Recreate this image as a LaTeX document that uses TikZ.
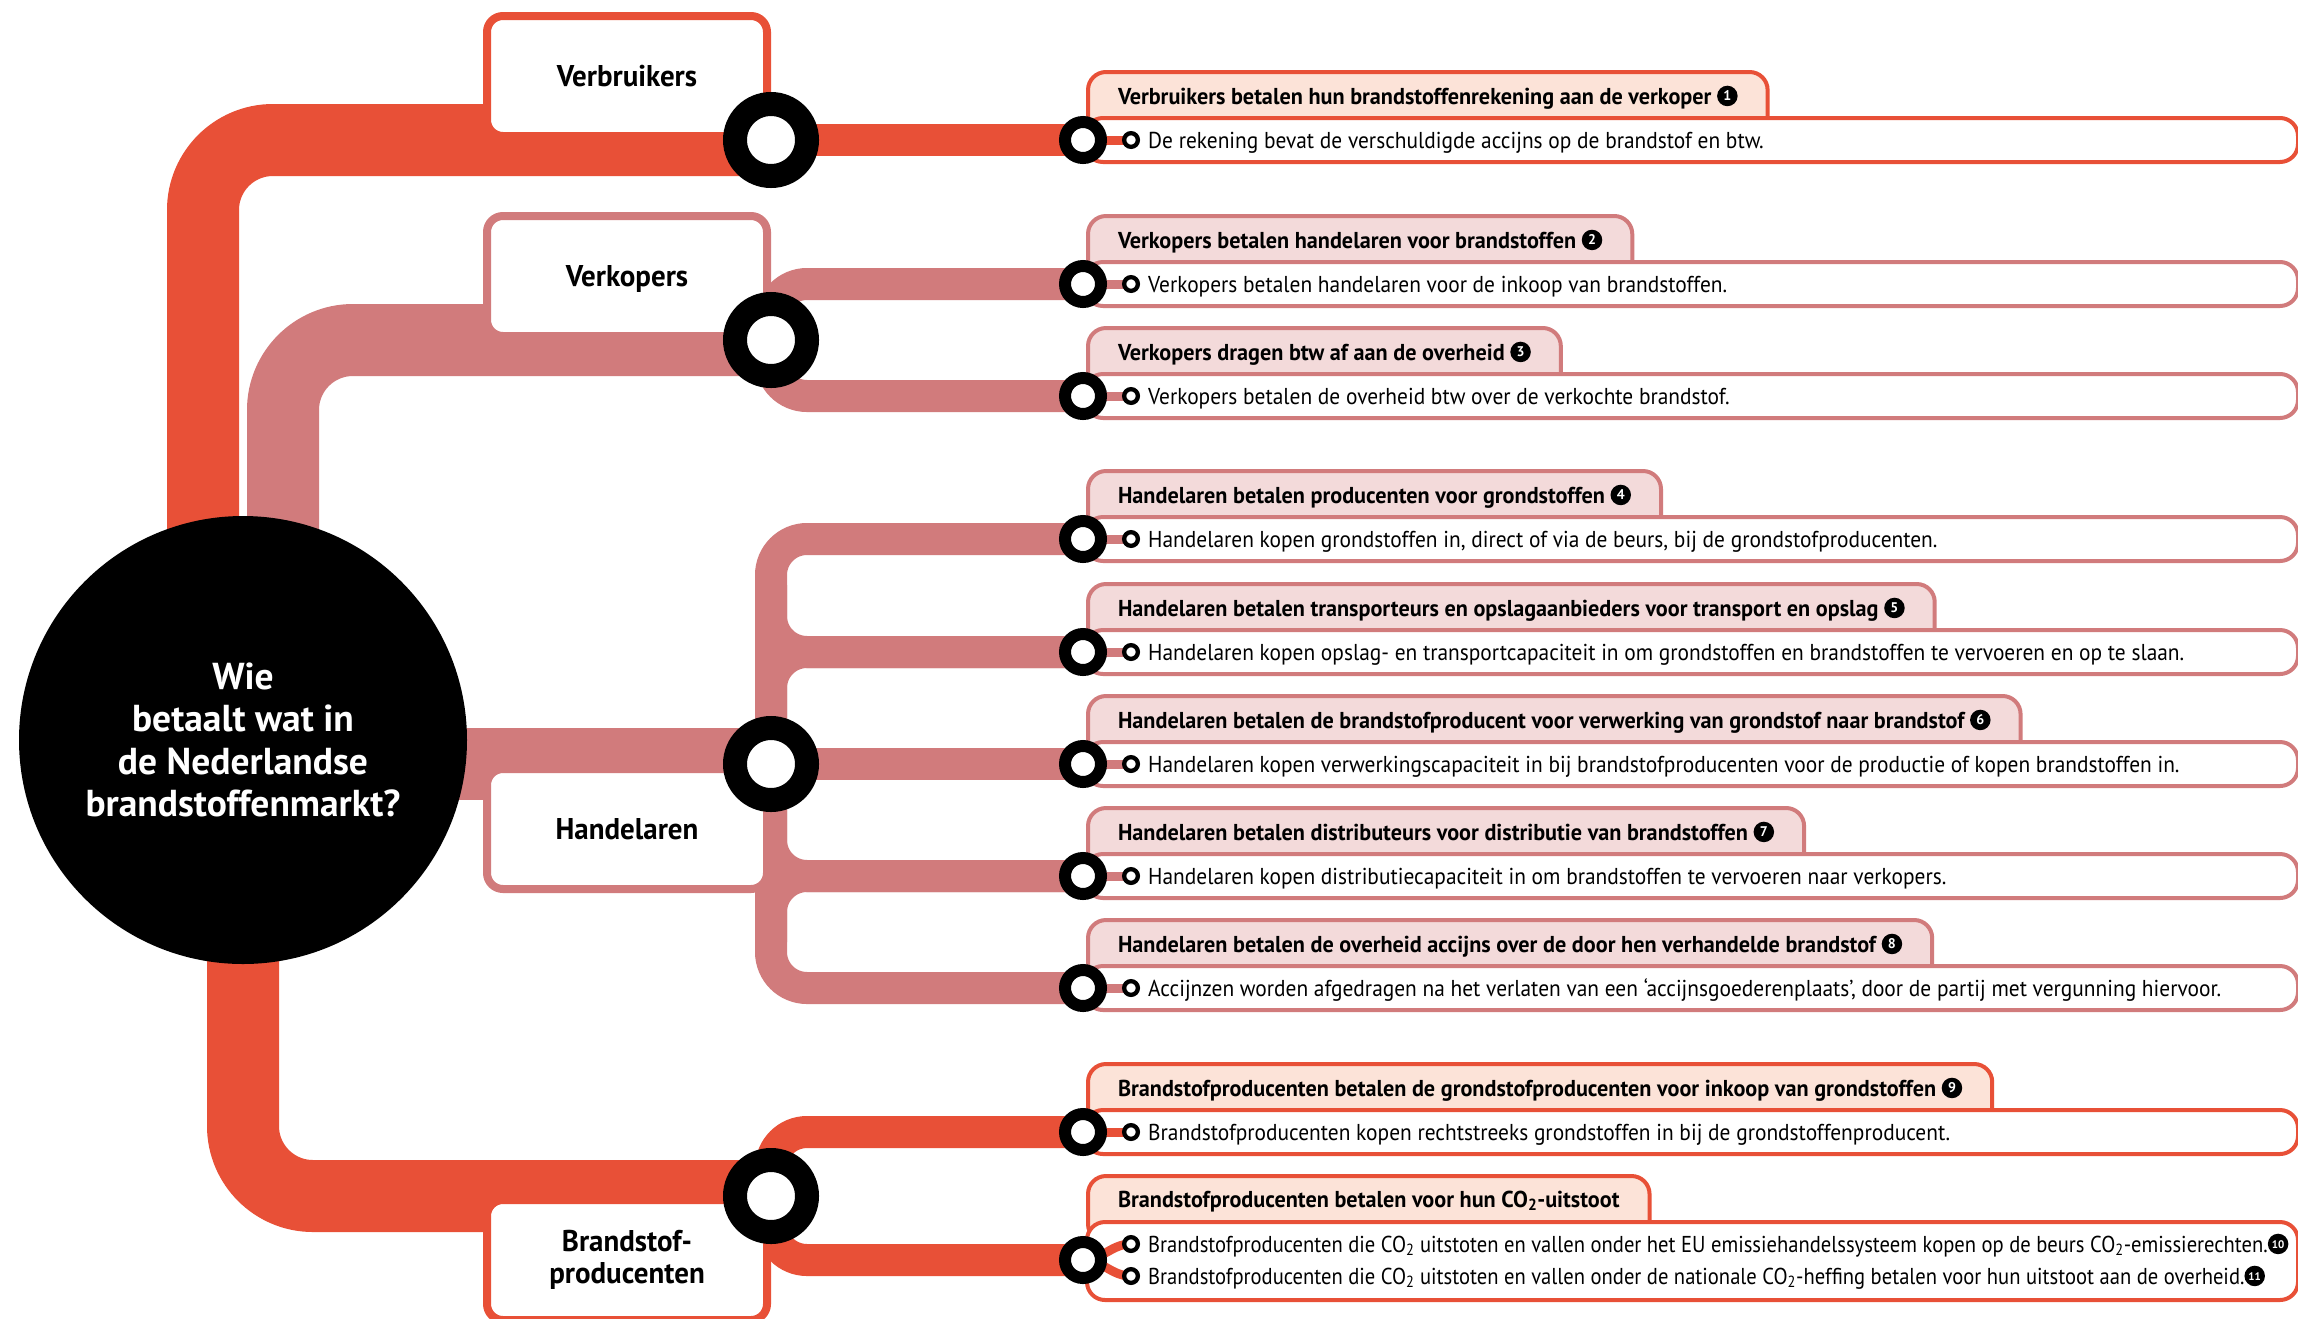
\documentclass[tikz,border=0pt]{standalone}
\usepackage{fontspec}
\newfontfamily\cond{PT Sans}[FakeStretch=0.93, BoldFeatures={FakeStretch=0.965}]
\newfontfamily\condn{PT Sans}[FakeStretch=0.895]
\newfontfamily\wide{PT Sans}
\usetikzlibrary{calc}
\definecolor{cred}{HTML}{E85037}
\definecolor{cpink}{HTML}{D17B7C}
\definecolor{tabred}{HTML}{FCE3D8}
\definecolor{tabpink}{HTML}{F3DADA}
\tikzset{
 trunk/.style={line width=72pt, rounded corners=70pt},
 branch/.style={line width=32pt, rounded corners=36pt},
 stub/.style={line width=9pt},
 mainst/.style={circle, draw=black, fill=white, line width=24pt, minimum size=72pt, inner sep=0pt},
 subst/.style={circle, draw=black, fill=white, line width=12pt, minimum size=36pt, inner sep=0pt},
 bullet/.style={circle, draw=black, fill=white, line width=4.3pt, minimum size=13.7pt, inner sep=0pt},
 catbox/.style={draw, line width=8pt, rounded corners=16pt, fill=white, minimum width=280pt, minimum height=120pt, inner sep=0pt, font=\cond\bfseries\fontsize{30}{32}\selectfont},
 tabnode/.style={anchor=north west, draw, line width=4pt, rounded corners=18pt, inner xsep=30pt, inner ysep=0pt, text height=32pt, text depth=38pt, font=\cond\bfseries\fontsize{23}{27}\selectfont},
 rowbox/.style={anchor=west, draw, fill=white, line width=4pt, rounded corners=18pt, minimum width=1213pt, minimum height=44pt, inner sep=0pt},
 bodytext/.style={anchor=base west, inner sep=0pt, font=\cond\fontsize{23}{27}\selectfont},
 numdot/.style={circle, fill=black, text=white, draw=none, anchor=center, inner sep=0pt, minimum size=20.5pt, text height=9.5pt, text depth=0pt, rounded corners=0pt},
}
\newcommand\nd[3][14]{\tikz[baseline={([yshift=-3.3pt]#2.base)}]\node[numdot, font=\wide\bfseries\fontsize{#1}{#1}\selectfont] (#2) {#3};}
\newcommand\rowitem[6]{%
 \node[tabnode, draw=#3, fill=#4] (t#1) at (1086,#2-70) {#5};
 \node[rowbox, draw=#3] (r#1) at (1083,#2) {};
 \draw[stub, #3] (s#1) -- (p#1);
 \node[bodytext] (x#1) at (1148,#2+8) {#6};
 \node[bullet] (b#1) at (p#1) {};
 \node[subst] (S#1) at (s#1) {};
}
\begin{document}
\begin{tikzpicture}[x=1pt, y=-1pt]
\fill[white] (0,0) rectangle (2298,1318);
\useasboundingbox (0,0) rectangle (2298,1318);
% positions
\coordinate (c) at (243,740);
\coordinate (c1) at (203,600);
\coordinate (c2) at (283,600);
\coordinate (c3) at (400,764);
\coordinate (c4) at (243,900);
\coordinate (v) at (771,140);
\coordinate (k) at (771,340);
\coordinate (h) at (771,764);
\coordinate (b) at (771,1196);
\coordinate (ht) at (771,585);
\coordinate (hb) at (771,942);
\foreach \i/\y in {1/140,2/284,3/396,4/539,5/652,6/764,7/876,8/988,9/1132}{
  \coordinate (s\i) at (1083,\y);
  \coordinate (p\i) at (1131,\y);
}
\coordinate (s10) at (1083,1260);
\coordinate (p10) at (1131,1244);
\coordinate (p11) at (1131,1276);
% trunks
\draw[trunk, cred] (c1) -- (c1 |- v) -- (v);
\draw[trunk, cpink] (c2) -- (c2 |- k) -- (k);
\draw[trunk, cpink] (c3) -- (h);
\draw[trunk, cred] (c4) -- (c4 |- b) -- (b);
% branches
\draw[branch, cred] (v) -- (s1);
\draw[branch, cpink] (k) -- (k |- s2) -- (s2);
\draw[branch, cpink] (k) -- (k |- s3) -- (s3);
\draw[branch, cpink] (h) -- (h |- s4) -- (s4);
\draw[branch, cpink] (ht) -- (h |- s5) -- (s5);
\draw[branch, cpink] (h) -- (h |- s5) -- (s5);
\draw[branch, cpink] (h) -- (s6);
\draw[branch, cpink] (h) -- (h |- s7) -- (s7);
\draw[branch, cpink] (hb) -- (h |- s7) -- (s7);
\draw[branch, cpink] (h) -- (h |- s8) -- (s8);
\draw[branch, cred] (b) -- (b |- s9) -- (s9);
\draw[branch, cred] (b) -- (b |- s10) -- (s10);
% rows
\rowitem{1}{140}{cred}{tabred}{Verbruikers betalen hun brandstoffenrekening aan de verkoper \nd{n1}{1}}{De rekening bevat de verschuldigde accijns op de brandstof en btw.}
\rowitem{2}{284}{cpink}{tabpink}{Verkopers betalen handelaren voor brandstoffen \nd{n2}{2}}{Verkopers betalen handelaren voor de inkoop van brandstoffen.}
\rowitem{3}{396}{cpink}{tabpink}{Verkopers dragen btw af aan de overheid \nd{n3}{3}}{Verkopers betalen de overheid btw over de verkochte brandstof.}
\rowitem{4}{539}{cpink}{tabpink}{Handelaren betalen producenten voor grondstoffen \nd{n4}{4}}{Handelaren kopen grondstoffen in, direct of via de beurs, bij de grondstofproducenten.}
\rowitem{5}{652}{cpink}{tabpink}{Handelaren betalen transporteurs en opslagaanbieders voor transport en opslag \nd{n5}{5}}{Handelaren kopen opslag- en transportcapaciteit in om grondstoffen en brandstoffen te vervoeren en op te slaan.}
\rowitem{6}{764}{cpink}{tabpink}{Handelaren betalen de brandstofproducent voor verwerking van grondstof naar brandstof \nd{n6}{6}}{Handelaren kopen verwerkingscapaciteit in bij brandstofproducenten voor de productie of kopen brandstoffen in.}
\rowitem{7}{876}{cpink}{tabpink}{Handelaren betalen distributeurs voor distributie van brandstoffen \nd{n7}{7}}{Handelaren kopen distributiecapaciteit in om brandstoffen te vervoeren naar verkopers.}
\rowitem{8}{988}{cpink}{tabpink}{Handelaren betalen de overheid accijns over de door hen verhandelde brandstof \nd{n8}{8}}{Accijnzen worden afgedragen na het verlaten van een ‘accijnsgoederenplaats’, door de partij met vergunning hiervoor.}
\rowitem{9}{1132}{cred}{tabred}{Brandstofproducenten betalen de grondstofproducenten voor inkoop van grondstoffen \nd{n9}{9}}{Brandstofproducenten kopen rechtstreeks grondstoffen in bij de grondstoffenproducent.}
% row 10/11
\node[tabnode, draw=cred, fill=tabred, text height=31pt, text depth=35pt] (t10) at (1086,1174) {Brandstofproducenten betalen voor hun CO\textsubscript{2}-uitstoot};
\node[rowbox, draw=cred, anchor=north west, minimum height=78pt, minimum width=1211pt] (r10) at (1085,1220) {};
\draw[stub, cred] (s10) to[out=0, in=180] (p10);
\draw[stub, cred] (s10) to[out=0, in=180] (p11);
\node[bodytext, font=\condn\fontsize{23}{27}\selectfont] (x10) at (1148,1252) {Brandstofproducenten die CO\textsubscript{2} uitstoten en vallen onder het EU emissiehandelssysteem kopen op de beurs CO\textsubscript{2}-emissierechten.\nd[11]{n10}{10}};
\node[bodytext, font=\condn\fontsize{23}{27}\selectfont] (x11) at (1148,1284) {Brandstofproducenten die CO\textsubscript{2} uitstoten en vallen onder de nationale CO\textsubscript{2}-heffing betalen voor hun uitstoot aan de overheid.\nd[11]{n11}{11}};
\node[bullet] (b10) at (p10) {};
\node[bullet] (b11) at (p11) {};
\node[subst] (S10) at (s10) {};
% category boxes
\node[catbox, draw=cred, text height=21pt, text depth=0pt] (V) at (627,76) {Verbruikers};
\node[catbox, draw=cpink, text height=21pt, text depth=0pt] (K) at (627,276) {Verkopers};
\node[catbox, draw=cpink, text height=21pt, text depth=0pt] (H) at (627,829) {Handelaren};
\node[catbox, draw=cred, align=center] (B) at (627,1260) {Brandstof-\\producenten};
% central circle
\node[circle, fill=black, minimum size=448pt, inner sep=0pt, text=white, align=center, font=\wide\bfseries\fontsize{37.5}{42.3}\selectfont] (q) at (c) {Wie\\betaalt wat in\\de Nederlandse\\brandstoffenmarkt?};
% main stations
\node[mainst] (Vs) at (v) {};
\node[mainst] (Ks) at (k) {};
\node[mainst] (Hs) at (h) {};
\node[mainst] (Bs) at (b) {};
\end{tikzpicture}
\end{document}
